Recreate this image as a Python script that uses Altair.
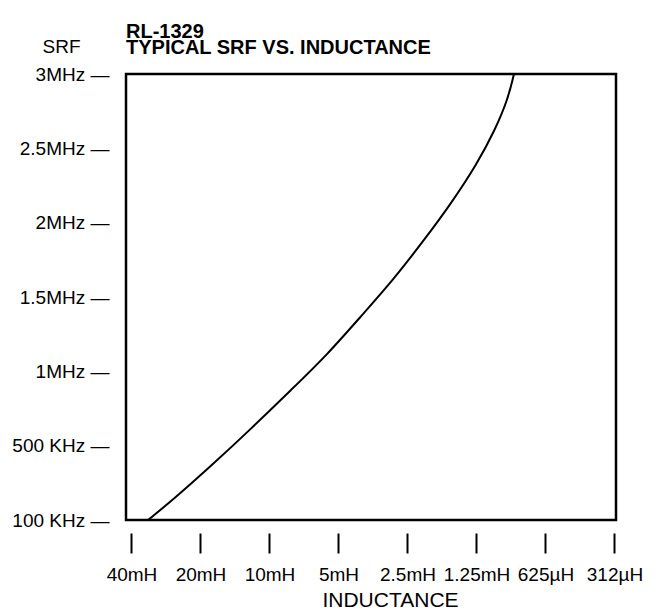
import altair as alt
import pandas as pd

# Curve: inductance (mH) vs SRF (MHz)
inductance_mh = [33.9, 26.4, 17.6, 12.2, 7.98, 5.61, 3.91, 2.89, 2.10, 1.63, 1.244, 1.038, 0.911, 0.858]
srf_mhz = [0.0, 0.135, 0.377, 0.605, 0.881, 1.110, 1.386, 1.614, 1.890, 2.119, 2.394, 2.623, 2.832, 3.0]

x_ticks = [40, 20, 10, 5, 2.5, 1.25, 0.625, 0.3125]
x_labels = ["40mH", "20mH", "10mH", "5mH", "2.5mH", "1.25mH", "625µH", "312µH"]
y_ticks = [0, 0.5, 1, 1.5, 2, 2.5, 3]
y_labels = ["100 KHz", "500 KHz", "1MHz", "1.5MHz", "2MHz", "2.5MHz", "3MHz"]

df = pd.DataFrame({"L": inductance_mh, "F": srf_mhz})

def lookup_expr(ticks, labels, suffix=""):
    t = "[" + ",".join(repr(v) for v in ticks) + "]"
    l = "[" + ",".join("'" + s + "'" for s in labels) + "]"
    return f"{l}[indexof({t}, datum.value)] + '{suffix}'"

FONT = "Liberation Sans"

chart = alt.Chart(df).mark_line(color="black", strokeWidth=2, interpolate="basis").encode(
    x=alt.X("L:Q",
            scale=alt.Scale(type="log", base=2, domain=[42.27, 0.3078], nice=False, zero=False),
            axis=alt.Axis(values=x_ticks, labelExpr=lookup_expr(x_ticks, x_labels),
                          domain=False, grid=False, ticks=True, tickSize=20, tickWidth=2,
                          tickColor="black", offset=13, labelPadding=12,
                          labelFont=FONT, labelFontSize=19, labelColor="black",
                          labelFlush=False, labelOverlap=False,
                          title="INDUCTANCE", titleFont=FONT, titleFontSize=21,
                          titleFontWeight="normal", titleColor="black",
                          titleX=264, titleY=67, titleBaseline="middle", titleAlign="center")),
    y=alt.Y("F:Q",
            scale=alt.Scale(domain=[0, 3], nice=False),
            axis=alt.Axis(values=y_ticks, labelExpr=lookup_expr(y_ticks, y_labels, " —"),
                          domain=False, grid=False, ticks=False, labelPadding=17,
                          labelFont=FONT, labelFontSize=19, labelColor="black",
                          labelFlush=False, labelOverlap=False,
                          title="SRF", titleFont=FONT, titleFontSize=19,
                          titleFontWeight="normal", titleColor="black", titleAngle=0,
                          titleX=-65, titleY=-28, titleAlign="center", titleBaseline="middle")),
).properties(
    width=490, height=446,
    background="white",
    title=alt.TitleParams(["RL-1329", "TYPICAL SRF VS. INDUCTANCE"], anchor="start",
                          frame="group",
                          font=FONT, fontSize=20, fontWeight="bold", color="black",
                          lineHeight=16, offset=-21),
    autosize=alt.AutoSizeParams(type="none"),
    padding={"left": 118, "top": 66, "right": 40, "bottom": 96},
).configure_view(stroke="black", strokeWidth=2.5)

chart.save("out.html", embed_options={"renderer": "svg", "actions": False})
